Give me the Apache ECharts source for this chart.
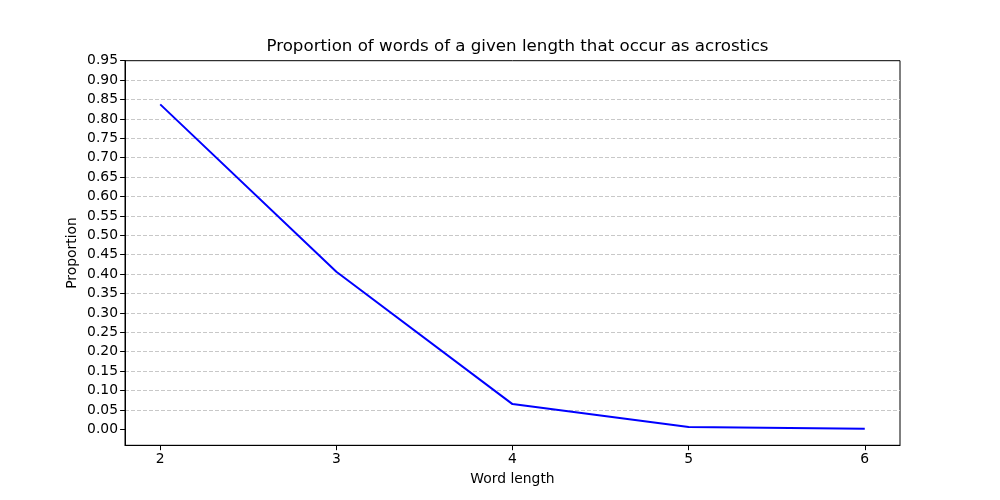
<!DOCTYPE html>
<html>
<head>
<meta charset="utf-8">
<script src="https://cdn.jsdelivr.net/npm/echarts@6/dist/echarts.min.js"></script>
<style>html,body{margin:0;padding:0;background:#fff;}#c{width:1000px;height:500px;}</style>
</head>
<body>
<div id="c"></div>
<script>
const wordLengths = [2, 3, 4, 5, 6];
const proportions = [0.8375, 0.406, 0.065, 0.006, 0.0015];
const yTicks = [0, 0.05, 0.1, 0.15, 0.2, 0.25, 0.3, 0.35, 0.4, 0.45, 0.5, 0.55, 0.6, 0.65, 0.7, 0.75, 0.8, 0.85, 0.9, 0.95];
const xTicks = [2, 3, 4, 5, 6];

const font = 'DejaVu Sans';
const chart = echarts.init(document.getElementById('c'), null, {renderer: 'canvas'});
chart.setOption({
  animation: false,
  backgroundColor: '#fff',
  title: {
    text: 'Proportion of words of a given length that occur as acrostics',
    left: 512.5, top: 33, textAlign: 'center',
    textStyle: {fontFamily: font, fontSize: 16.67, fontWeight: 'normal', color: '#000'}
  },
  grid: {left: 125, right: 100, top: 60.7, bottom: 54.7, show: true, borderColor: '#000', borderWidth: 1, backgroundColor: 'transparent'},
  xAxis: {
    type: 'value', min: 1.8, max: 6.2,
    name: 'Word length', nameLocation: 'middle', nameGap: 27, nameMoveOverlap: false,
    nameTextStyle: {fontFamily: font, fontSize: 13.89, color: '#000'},
    axisLine: {show: true, onZero: false, lineStyle: {color: '#000', width: 1}},
    axisTick: {show: true, length: 4.9, customValues: xTicks, lineStyle: {color: '#000'}},
    axisLabel: {customValues: xTicks, fontFamily: font, fontSize: 13.89, color: '#000', margin: 7, formatter: v => String(v)},
    splitLine: {show: false}
  },
  yAxis: {
    type: 'value', min: -0.0412, max: 0.95,
    name: 'Proportion', nameLocation: 'middle', nameGap: 46, nameMoveOverlap: false,
    nameTextStyle: {fontFamily: font, fontSize: 13.89, color: '#000'},
    axisLine: {show: true, onZero: false, lineStyle: {color: '#000', width: 1}},
    axisTick: {show: true, length: 4.9, customValues: yTicks, lineStyle: {color: '#000'}},
    axisLabel: {customValues: yTicks, fontFamily: font, fontSize: 13.89, color: '#000', margin: 7, formatter: v => v.toFixed(2)},
    splitLine: {show: true, showMinLine: false, showMaxLine: false, lineStyle: {color: '#c8c8c8', type: [4, 2], width: 1}}
  },
  series: [{
    type: 'line',
    data: wordLengths.map((x, i) => [x, proportions[i]]),
    showSymbol: false,
    lineStyle: {color: '#0000ff', width: 2},
    itemStyle: {color: '#0000ff'}
  }]
});
</script>
</body>
</html>
